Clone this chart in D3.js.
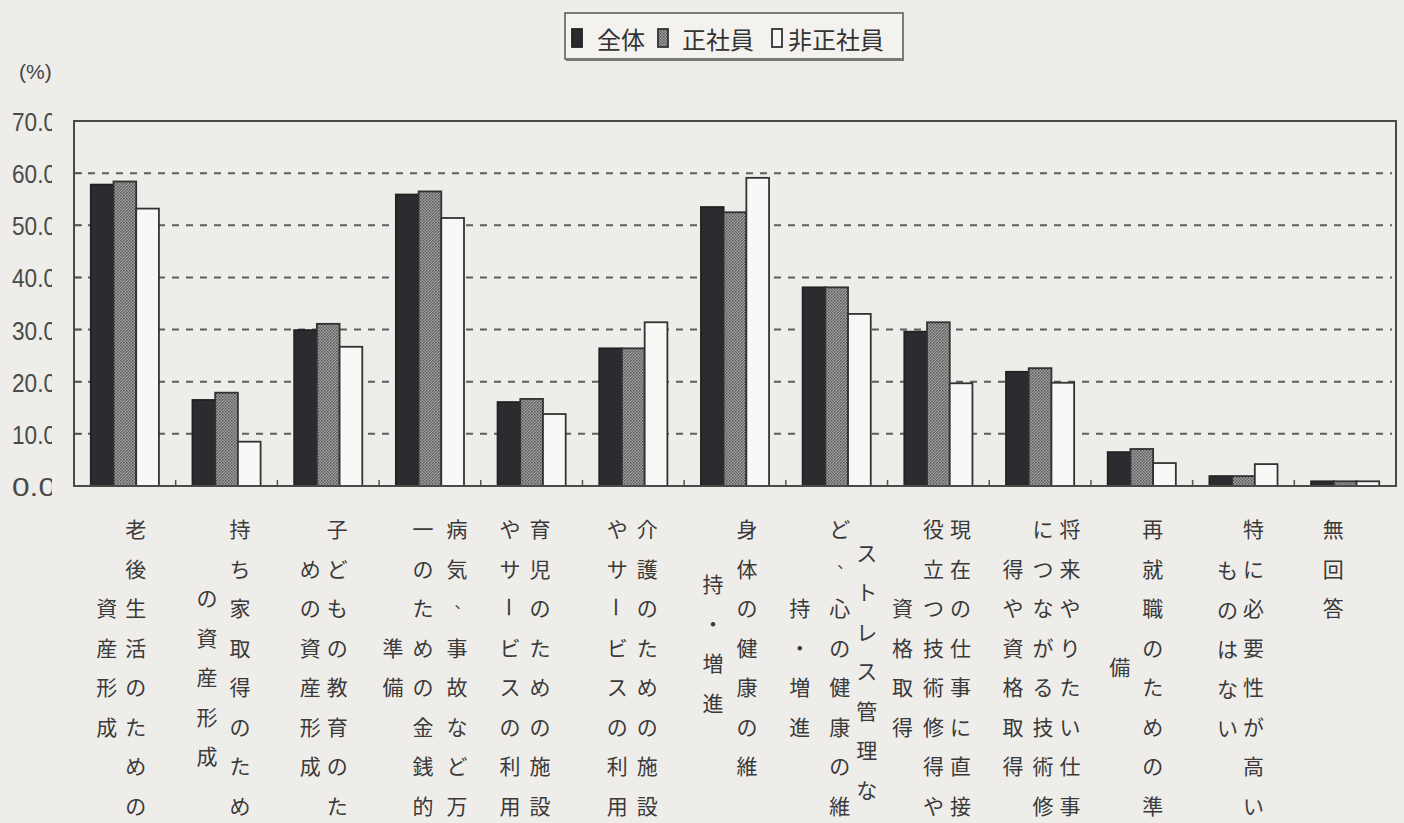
<!DOCTYPE html>
<html><head><meta charset="utf-8">
<script src="https://cdn.jsdelivr.net/npm/d3@7/dist/d3.min.js"></script>
<style>body{margin:0;background:#efede9;} svg{display:block}</style>
</head><body><svg id="c" width="1404" height="823"></svg>
<script>
// ---- data ----
const categories = [
  "老後生活のための資産形成",
  "持ち家取得のための資産形成",
  "子どもの教育のための資産形成",
  "病気、事故など万一のための金銭的準備",
  "育児のための施設やサービスの利用",
  "介護のための施設やサービスの利用",
  "身体の健康の維持・増進",
  "ストレス管理など、心の健康の維持・増進",
  "現在の仕事に直接役立つ技術修得や資格取得",
  "将来やりたい仕事につながる技術修得や資格取得",
  "再就職のための準備",
  "特に必要性が高いものはない",
  "無回答"
];
const seriesNames = ["全体", "正社員", "非正社員"];
const valuesAll =        [57.8, 16.5, 29.9, 55.9, 16.1, 26.4, 53.5, 38.1, 29.6, 21.9, 6.5, 1.9, 0.9];
const valuesRegular =    [58.4, 17.9, 31.1, 56.5, 16.7, 26.4, 52.5, 38.1, 31.4, 22.6, 7.1, 1.9, 0.9];
const valuesNonRegular = [53.2,  8.5, 26.7, 51.4, 13.8, 31.4, 59.1, 33.0, 19.7, 19.8, 4.4, 4.2, 0.9];
const yTicks = [0, 10, 20, 30, 40, 50, 60, 70];
const yTickLabels = ["0.0", "10.0", "20.0", "30.0", "40.0", "50.0", "60.0", "70.0"];
const yUnit = "(%)";
// category label text, split into vertical columns (right to left)
const labelColumns = [
  ["老後生活のための", "資産形成"],
  ["持ち家取得のため", "の資産形成"],
  ["子どもの教育のた", "めの資産形成"],
  ["病気、事故など万", "一のための金銭的", "準備"],
  ["育児のための施設", "やサービスの利用"],
  ["介護のための施設", "やサービスの利用"],
  ["身体の健康の維", "持・増進"],
  ["ストレス管理な", "ど、心の健康の維", "持・増進"],
  ["現在の仕事に直接", "役立つ技術修得や", "資格取得"],
  ["将来やりたい仕事", "につながる技術修", "得や資格取得"],
  ["再就職のための準", "備"],
  ["特に必要性が高い", "ものはない"],
  ["無回答"]
];

// ---- layout (not data) ----
const colDx = [[11,-18],[13.5,-19.5],[9,-18],[27,-7,-37],[8.5,-21.5],[14,-16],[12,-22],[30,3,-37],[22,-5,-36],[30,3,-27],[11,-22],[10,-16],[-12]];
const colStart = [[0,2],[0,1.75],[0,1],[0,0,3],[0,0],[0,0],[0,1.4],[0.6,0,2],[0,0,2],[0,0,1],[0,3.5],[0,1.05],[0]];

const svg = d3.select("#c");
const L = 74, R = 1396, T = 121, B = 486;
const y = d3.scaleLinear().domain([0, 70]).range([B, T]);
const x = d3.scaleBand().domain(categories).range([L, R]).padding(0);
const gw = x.bandwidth() * 0.67;
const xs = d3.scaleBand().domain(seriesNames).range([(x.bandwidth() - gw) / 2, (x.bandwidth() + gw) / 2]).padding(0);

const defs = svg.append("defs");
const pat = defs.append("pattern").attr("id", "stip").attr("width", 3).attr("height", 3).attr("patternUnits", "userSpaceOnUse");
pat.append("rect").attr("width", 3).attr("height", 3).attr("fill", "#a3a3a3");
pat.append("rect").attr("width", 1.5).attr("height", 1.5).attr("fill", "#555");
pat.append("rect").attr("x", 1.5).attr("y", 1.5).attr("width", 1.5).attr("height", 1.5).attr("fill", "#666");
defs.append("clipPath").attr("id", "ylab").append("rect").attr("x", 0).attr("y", 0).attr("width", 52).attr("height", 823);

const fills = ["#2b2b30", "url(#stip)", "#f8f8f6"];
const strokes = ["#222", "#333", "#333"];

// gridlines
svg.append("g").selectAll("line").data(yTicks.filter(d => d > 0 && d < 70)).join("line")
  .attr("x1", L).attr("x2", R - 4).attr("y1", d => y(d)).attr("y2", d => y(d))
  .attr("stroke", "#5e5e5e").attr("stroke-width", 2).attr("stroke-dasharray", "7,7");

// left ticks inside
svg.append("g").selectAll("line").data(yTicks).join("line")
  .attr("x1", L).attr("x2", L + 8).attr("y1", d => y(d)).attr("y2", d => y(d))
  .attr("stroke", "#555").attr("stroke-width", 1.5);

// bottom category ticks
svg.append("g").selectAll("line").data(categories.slice(1)).join("line")
  .attr("x1", d => x(d)).attr("x2", d => x(d)).attr("y1", B).attr("y2", B - 6)
  .attr("stroke", "#555").attr("stroke-width", 1.5);

// bars
const series = [valuesAll, valuesRegular, valuesNonRegular];
series.forEach((vals, si) => {
  svg.append("g").selectAll("rect").data(vals).join("rect")
    .attr("x", (d, i) => x(categories[i]) + xs(seriesNames[si]))
    .attr("width", xs.bandwidth())
    .attr("y", d => y(d))
    .attr("height", d => B - y(d))
    .attr("fill", fills[si]).attr("stroke", strokes[si]).attr("stroke-width", 1.8);
});

// frame
svg.append("rect").attr("x", L).attr("y", T).attr("width", R - L).attr("height", B - T)
  .attr("fill", "none").attr("stroke", "#4a4a4a").attr("stroke-width", 2);

// y tick labels (clipped like original)
svg.append("g").attr("clip-path", "url(#ylab)").selectAll("text").data(yTicks).join("text")
  .attr("x", 12).attr("y", d => y(d) + 1).attr("dominant-baseline", "central")
  .attr("textLength", 44).attr("lengthAdjust", "spacingAndGlyphs")
  .attr("font-family", "'Liberation Sans Narrow','Liberation Sans',sans-serif")
  .attr("font-size", 26).attr("fill", "#4a4a4a")
  .text((d, i) => yTickLabels[i]);

svg.append("text").attr("x", 19).attr("y", 71).attr("dominant-baseline", "central")
  .attr("font-family", "'Liberation Sans Narrow','Liberation Sans',sans-serif").attr("font-size", 21)
  .attr("fill", "#444").text(yUnit);

// category labels (vertical)
const rowH = 39.5, row0 = 528;
const lab = svg.append("g").attr("font-family", "'Noto Sans CJK JP',sans-serif").attr("font-size", 21).attr("fill", "#3a3a3a");
labelColumns.forEach((cols, ci) => {
  const cx = x(categories[ci]) + x.bandwidth() / 2;
  cols.forEach((col, k) => {
    Array.from(col).forEach((ch, r) => {
      let px = cx + colDx[ci][k], py = row0 + (colStart[ci][k] + r) * rowH;
      const t = lab.append("text").attr("text-anchor", "middle").attr("dominant-baseline", "central").text(ch);
      if (ch === "、") { t.attr("font-size", 15); px += 5; py -= 6; }
      t.attr("x", px).attr("y", py);
      if (ch === "ー") t.attr("transform", `rotate(90,${px},${py})`);
    });
  });
});

// legend
const lg = svg.append("g");
lg.append("rect").attr("x", 565).attr("y", 13).attr("width", 338).attr("height", 46)
  .attr("fill", "#f3f2ef").attr("stroke", "#555").attr("stroke-width", 1.5);
lg.append("line").attr("x1", 566).attr("x2", 904).attr("y1", 60).attr("y2", 60).attr("stroke", "#777").attr("stroke-width", 2);
const legX = [572, 658, 772];
const legTX = [597, 682, 788];
seriesNames.forEach((n, i) => {
  lg.append("rect").attr("x", legX[i]).attr("y", 29).attr("width", 10).attr("height", 18)
    .attr("fill", fills[i]).attr("stroke", strokes[i]).attr("stroke-width", 1.8);
  lg.append("text").attr("x", legTX[i]).attr("y", 38).attr("dominant-baseline", "central")
    .attr("font-family", "'Noto Sans CJK JP',sans-serif").attr("font-size", 24).attr("fill", "#333").text(n);
});
</script></body></html>
